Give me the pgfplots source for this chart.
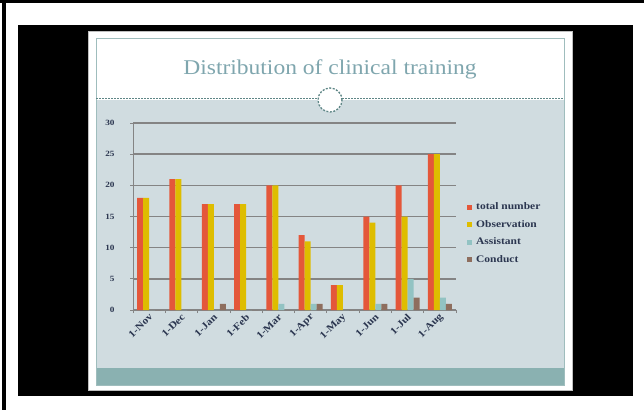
\documentclass[border=0pt]{standalone}
\usepackage{pgfplots}
\pgfplotsset{compat=1.18}
\usepackage{fontspec}
\setmainfont{Liberation Serif}[FakeStretch=1.15]
\newfontfamily\titlefont{Liberation Serif}[FakeStretch=1.12]
\definecolor{cRed}{HTML}{E4573A}
\definecolor{cYel}{HTML}{DEBD00}
\definecolor{cAss}{HTML}{92C3C3}
\definecolor{cCon}{HTML}{8E6E5E}
\definecolor{panelc}{HTML}{D0DCE0}
\definecolor{bandc}{HTML}{8AB1B1}
\definecolor{framec}{HTML}{9FBDBD}
\definecolor{dashc}{HTML}{5E8686}
\definecolor{titlec}{HTML}{7FA6AE}
\definecolor{gridc}{HTML}{848484}
\definecolor{txtc}{HTML}{2B3650}
\begin{document}
\begin{tikzpicture}[x=1pt,y=1pt]
% background / slide frame
\fill[white] (0,0) rectangle (644,410);
\fill[black] (0,407) rectangle (644,410);
\fill[black] (2,0) rectangle (6,410);
\fill[black] (18,14) rectangle (633,385);
\filldraw[fill=white,draw=gray!50] (88,20) rectangle (572,379);
\fill[panelc] (96,42) rectangle (564,310);
\fill[bandc] (96,25) rectangle (564,42);
\draw[framec,line width=1pt] (96,25) rectangle (564,371);
\draw[dashc,line width=1pt,dash pattern=on 2pt off 1pt] (96,311) -- (564,311);
\filldraw[fill=white,draw=dashc,line width=1.3pt,dash pattern=on 2pt off 1.5pt] (330,310) circle (12);
\node[anchor=base,text=titlec,font=\titlefont\fontsize{21}{24}\selectfont,inner sep=0pt] at (330,335) {Distribution of clinical training};
\begin{axis}[
  at={(133pt,100pt)}, anchor=south west,
  scale only axis, width=323pt, height=187pt,
  ybar=0pt, bar width=6pt,
  xmin=-0.5, xmax=9.5, ymin=0, ymax=30,
  xtick={0,...,9},
  xticklabels={1-Nov,1-Dec,1-Jan,1-Feb,1-Mar,1-Apr,1-May,1-Jun,1-Jul,1-Aug},
  minor xtick={-0.5,0.5,...,9.5},
  ytick={0,5,...,30},
  axis x line*=bottom, axis y line*=left,
  axis line style={gridc,line width=1pt},
  major x tick style={draw=none},
  minor x tick style={gridc,line width=0.8pt},
  y tick style={gridc,line width=1pt},
  tick align=outside, major tick length=3pt, minor tick length=3pt,
  ymajorgrids, major grid style={gridc,line width=1.4pt},
  /pgf/number format/assume math mode=true,
  yticklabel style={font=\fontsize{8}{9}\selectfont\bfseries,text=txtc,xshift=-12pt},
  xticklabel style={font=\fontsize{10}{11}\selectfont\bfseries,text=txtc,rotate=45,anchor=east,yshift=-3pt,xshift=3pt},
  legend style={at={(1.034,0.584)},anchor=north west,draw=none,fill=none,inner sep=0pt,
    font=\fontsize{10}{11}\selectfont\bfseries,text=txtc,row sep=5pt,
    /tikz/every odd column/.append style={column sep=2pt}},
  legend cell align=left,
  legend image code/.code={\fill[#1,draw=none] (0pt,-2.5pt) rectangle (5pt,2.5pt);},
]
\addplot[fill=cRed,draw=none] coordinates {(0,18) (1,21) (2,17) (3,17) (4,20) (5,12) (6,4) (7,15) (8,20) (9,25)};
\addplot[fill=cYel,draw=none] coordinates {(0,18) (1,21) (2,17) (3,17) (4,20) (5,11) (6,4) (7,14) (8,15) (9,25)};
\addplot[fill=cAss,draw=none] coordinates {(0,0) (1,0) (2,0) (3,0) (4,1) (5,1) (6,0) (7,1) (8,5) (9,2)};
\addplot[fill=cCon,draw=none] coordinates {(0,0) (1,0) (2,1) (3,0) (4,0) (5,1) (6,0) (7,1) (8,2) (9,1)};
\legend{total number,Observation,Assistant,Conduct}
\end{axis}
\end{tikzpicture}
\end{document}
